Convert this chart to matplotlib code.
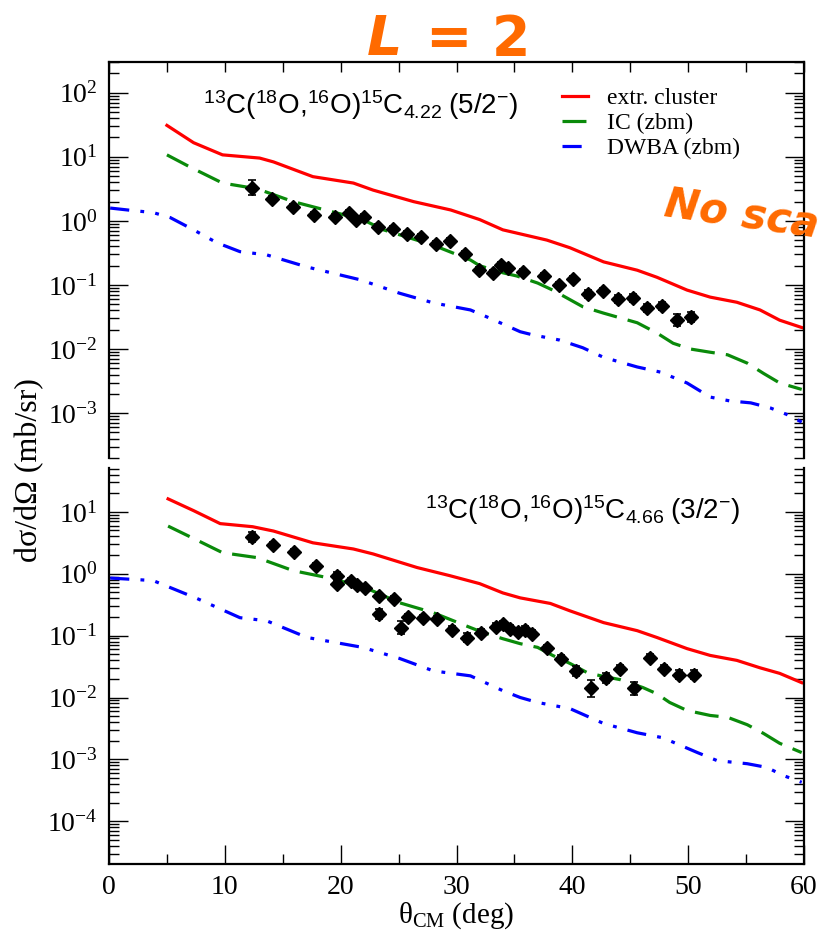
"""Angular distributions for 13C(18O,16O)15C, two states, log scale."""

import numpy as np
import matplotlib
matplotlib.use('Agg')
import matplotlib.pyplot as plt
from matplotlib.ticker import LogLocator, MultipleLocator, NullFormatter

plt.rcParams['font.family'] = ['Liberation Serif', 'DejaVu Serif']
plt.rcParams['mathtext.fontset'] = 'custom'
plt.rcParams['mathtext.rm'] = 'Liberation Serif'
plt.rcParams['mathtext.it'] = 'Liberation Serif:italic'
plt.rcParams['mathtext.sf'] = 'Liberation Sans'

# ---- top panel: 15C 4.22 MeV (5/2-) ----
# curves, log10(dsigma/dOmega)
red_top_th = [5.0, 7.3, 9.8, 13.0, 14.2, 17.6, 21.1, 22.8, 26.3, 29.5, 32.0, 34.0,
              37.8, 39.8, 42.7, 45.6, 47.3, 49.9, 51.9, 54.2, 56.2, 57.9, 59.9]
red_top_log = [1.49, 1.22, 1.03, 0.98, 0.92, 0.69, 0.59, 0.48, 0.30, 0.17, 0.02, -0.14,
               -0.30, -0.42, -0.64, -0.77, -0.88, -1.08, -1.19, -1.27, -1.39, -1.55, -1.67]

green_top_th = [5.0, 7.0, 9.8, 12.8, 15.9, 19.3, 21.9, 23.7, 28.0, 31.2, 32.0, 34.0, 35.2,
                37.0, 38.3, 40.9, 42.7, 45.6, 47.3, 48.7, 50.2, 51.9, 53.4, 55.1,
                56.5, 57.9, 59.8]
green_top_log = [1.03, 0.84, 0.59, 0.50, 0.30, 0.14, 0.02, -0.14, -0.38, -0.61, -0.70, -0.81,
                 -0.86, -0.97, -1.08, -1.34, -1.44, -1.59, -1.75, -1.91, -2.00, -2.05,
                 -2.09, -2.22, -2.38, -2.53, -2.63]

blue_top_th = [0.1, 2.1, 3.8, 5.3, 7.3, 9.3, 11.3, 13.6, 17.1, 21.7, 25.1, 28.0, 31.2,
               32.9, 35.5, 36.6, 38.9, 40.9, 42.7, 45.6, 47.6, 49.9, 51.9, 53.6, 55.4,
               57.1, 58.5, 59.8]
blue_top_log = [0.20, 0.16, 0.13, 0.05, -0.14, -0.34, -0.48, -0.53, -0.72, -0.92, -1.13,
                -1.28, -1.39, -1.52, -1.73, -1.78, -1.86, -1.98, -2.13, -2.28, -2.36,
                -2.53, -2.75, -2.81, -2.84, -2.92, -3.02, -3.14]

# data points (mb/sr) and error half-width in decades
data_top_th = [12.35, 14.08, 15.89, 17.70, 19.52, 20.73, 21.33, 22.02, 23.23, 24.53,
               25.73, 26.94, 28.24, 29.45, 30.74, 31.95, 33.16, 33.85, 34.46, 35.75,
               37.56, 38.86, 40.07, 41.36, 42.66, 43.96, 45.25, 46.46, 47.75, 49.05, 50.26]
data_top = [3.28, 2.21, 1.66, 1.24, 1.15, 1.33, 1.04, 1.15, 0.806, 0.75,
            0.626, 0.562, 0.437, 0.487, 0.305, 0.171, 0.154, 0.205, 0.184, 0.160,
            0.138, 0.100, 0.124, 0.0723, 0.0806, 0.0604, 0.0627, 0.0437, 0.047, 0.0284, 0.0316]
err_top_dec = [0.12, 0.04, 0.04, 0.04, 0.04, 0.04, 0.04, 0.04, 0.04, 0.04,
               0.04, 0.04, 0.04, 0.04, 0.04, 0.05, 0.05, 0.05, 0.05, 0.05,
               0.05, 0.05, 0.05, 0.06, 0.05, 0.06, 0.06, 0.07, 0.06, 0.09, 0.08]

# ---- bottom panel: 15C 4.66 MeV (3/2-) ----
red_bot_th = [5.1, 7.3, 9.6, 12.4, 14.2, 17.6, 21.1, 22.8, 26.6, 29.4, 32.0, 34.0,
              35.5, 38.1, 39.8, 42.7, 45.6, 47.3, 49.9, 51.9, 54.2, 56.2, 57.9, 59.8]
red_bot_log = [1.21, 1.02, 0.81, 0.76, 0.69, 0.50, 0.40, 0.32, 0.10, -0.03, -0.16, -0.31,
               -0.39, -0.48, -0.60, -0.79, -0.92, -1.03, -1.21, -1.32, -1.40, -1.52,
               -1.61, -1.76]

green_bot_th = [5.1, 7.3, 9.8, 12.8, 15.9, 19.3, 22.3, 25.1, 28.0, 31.2, 32.3, 34.0,
                35.5, 37.0, 38.3, 39.8, 41.3, 42.7, 44.1, 46.1, 47.3, 48.4, 49.9,
                51.9, 53.4, 55.1, 56.5, 57.9, 59.8]
green_bot_log = [0.77, 0.57, 0.34, 0.26, 0.05, -0.08, -0.24, -0.47, -0.63, -0.87, -0.95,
                 -1.05, -1.13, -1.19, -1.32, -1.45, -1.60, -1.66, -1.71, -1.84, -1.94,
                 -2.08, -2.21, -2.29, -2.32, -2.44, -2.58, -2.74, -2.89]

blue_bot_th = [0.1, 3.8, 7.6, 11.3, 13.6, 17.1, 21.9, 25.1, 28.0, 31.2, 34.0, 35.5,
               37.0, 39.8, 42.7, 45.6, 47.8, 50.8, 52.5, 55.1, 56.8, 58.2, 59.8]
blue_bot_log = [-0.07, -0.11, -0.40, -0.71, -0.76, -1.03, -1.19, -1.37, -1.57, -1.65,
                -1.89, -2.00, -2.08, -2.18, -2.42, -2.57, -2.65, -2.89, -3.02, -3.07,
                -3.13, -3.26, -3.37]

data_bot_th = [12.35, 14.16, 15.98, 17.88, 19.69, 19.69, 20.90, 21.42, 22.11, 23.32,
               23.32, 24.61, 25.22, 25.82, 27.12, 28.32, 29.62, 30.92, 32.12, 33.42,
               34.02, 34.63, 35.32, 35.92, 36.53, 37.82, 39.03, 40.33, 41.62, 42.92,
               44.13, 45.34, 46.72, 47.93, 49.22, 50.52]
data_bot = [3.95, 2.94, 2.26, 1.35, 0.93, 0.69, 0.77, 0.665, 0.594, 0.442,
            0.226, 0.395, 0.135, 0.202, 0.195, 0.188, 0.125, 0.093, 0.112, 0.140,
            0.156, 0.130, 0.116, 0.125, 0.108, 0.064, 0.0426, 0.0272, 0.0140, 0.0210,
            0.0294, 0.0140, 0.0442, 0.0294, 0.0235, 0.0235]
err_bot_dec = [0.08, 0.04, 0.04, 0.04, 0.06, 0.06, 0.04, 0.04, 0.04, 0.04,
               0.08, 0.04, 0.10, 0.05, 0.05, 0.05, 0.06, 0.07, 0.06, 0.05,
               0.05, 0.05, 0.05, 0.06, 0.05, 0.05, 0.05, 0.08, 0.14, 0.08,
               0.06, 0.10, 0.05, 0.06, 0.07, 0.07]

labels = ['extr. cluster', 'IC (zbm)', 'DWBA (zbm)']

RED = '#ff0000'
GREEN = '#0a8a0a'
BLUE = '#0000ff'
ORANGE = '#ff6a00'


def draw_panel(ax, red, green, blue, th, y, dec):
    lw = 2.3
    ax.plot(red[0], 10 ** np.array(red[1]), color=RED, lw=lw, label=labels[0],
            solid_joinstyle='round')
    ax.plot(green[0], 10 ** np.array(green[1]), color=GREEN, lw=lw,
            dashes=(7.5, 3.5), label=labels[1], dash_joinstyle='round')
    ax.plot(blue[0], 10 ** np.array(blue[1]), color=BLUE, lw=lw,
            dashes=(6, 3.5, 1.2, 3.5, 1.2, 3.5), label=labels[2], dash_joinstyle='round')
    y = np.array(y)
    dec = np.array(dec)
    yerr = [y * (1 - 10 ** -dec), y * (10 ** dec - 1)]
    ax.errorbar(th, y, yerr=yerr, fmt='D', ms=7, color='black', ecolor='black',
                elinewidth=1.2, capsize=3, capthick=1.2, zorder=5)

    ax.set_yscale('log')
    ax.set_xlim(0, 60)
    ax.yaxis.set_major_locator(LogLocator(base=10, numticks=20))
    ax.yaxis.set_minor_locator(LogLocator(base=10, subs=np.arange(2, 10), numticks=20))
    ax.yaxis.set_minor_formatter(NullFormatter())
    ax.xaxis.set_major_locator(MultipleLocator(10))
    ax.xaxis.set_minor_locator(MultipleLocator(5))
    ax.tick_params(which='both', direction='in', right=True, width=1.0)
    ax.tick_params(which='major', length=14, labelsize=20, pad=8)
    ax.tick_params(which='minor', length=7)
    for s in ax.spines.values():
        s.set_linewidth(1.6)


fig = plt.figure(figsize=(8.19, 9.40), dpi=100)
ax1 = fig.add_axes([0.1331, 0.5128, 0.8486, 0.4213])
ax2 = fig.add_axes([0.1331, 0.0809, 0.8486, 0.4213])

draw_panel(ax1, (red_top_th, red_top_log), (green_top_th, green_top_log),
           (blue_top_th, blue_top_log), data_top_th, data_top, err_top_dec)
draw_panel(ax2, (red_bot_th, red_bot_log), (green_bot_th, green_bot_log),
           (blue_bot_th, blue_bot_log), data_bot_th, data_bot, err_bot_dec)

ax1.set_ylim(10 ** -3.70, 10 ** 2.48)
ax2.set_ylim(10 ** -4.69, 10 ** 1.71)

# stacked frames: no spine between the panels
ax1.spines['bottom'].set_visible(False)
ax2.spines['top'].set_visible(False)
ax1.tick_params(axis='x', which='both', bottom=False, top=True, labelbottom=False,
                length=7)
ax2.tick_params(axis='x', which='both', top=False)

ax2.set_xlabel('\u03b8$_{\\mathrm{CM}}$ (deg)', fontsize=21, labelpad=0)
fig.text(0.036, 0.5, 'd\u03c3/d\u03a9 (mb/sr)', rotation=90, ha='center', va='center',
         fontsize=23)

ax1.text(0.135, 0.891,
         r'$\mathsf{{}^{13}C({}^{18}O{,}{}^{16}O){}^{15}C_{4.22}\ (5/2^{-})}$',
         transform=ax1.transAxes, ha='left', va='center', fontsize=20)
ax2.text(0.455, 0.894,
         r'$\mathsf{{}^{13}C({}^{18}O{,}{}^{16}O){}^{15}C_{4.66}\ (3/2^{-})}$',
         transform=ax2.transAxes, ha='left', va='center', fontsize=20)

ax1.legend(loc='upper left', bbox_to_anchor=(0.635, 0.965), frameon=False,
           fontsize=17, handlelength=1.1, handletextpad=0.8, labelspacing=0.15,
           borderpad=0)

# orange overlay annotations
fig.text(0.491, 0.957, 'L', color=ORANGE, fontsize=40, fontweight='bold',
         style='italic', family='DejaVu Sans', ha='right', va='center')
fig.text(0.520, 0.957, '= 2', color=ORANGE, fontsize=40, fontweight='bold',
         family='DejaVu Sans', ha='left', va='center')
fig.text(0.812, 1 - 204 / 940, 'No sca', color=ORANGE, fontsize=30, fontweight='bold',
         style='italic', family='DejaVu Sans', ha='left', va='center', rotation=-8,
         rotation_mode='anchor')

fig.savefig('out.png', dpi=100)
